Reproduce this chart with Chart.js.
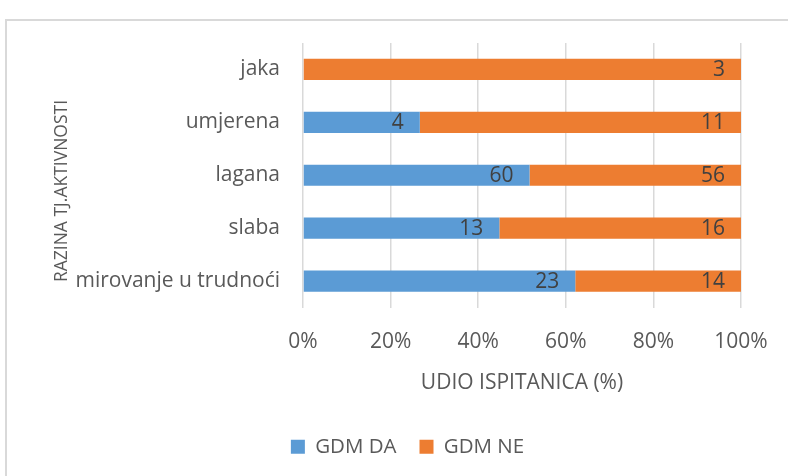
<!DOCTYPE html>
<html lang="hr">
<head>
  <meta charset="UTF-8">
  <title>GDM prema razini tjelesne aktivnosti</title>
  <script src="https://cdn.jsdelivr.net/npm/chart.js"></script>
  <style>
    body { margin: 0; background: #fff; }
    #frame {
      position: absolute; left: 5px; top: 19px;
      width: 800px; height: 480px;
      border: 2px solid #d9d9d9;
    }
    #wrap { position: absolute; left: 0; top: 0; width: 788px; height: 476px; }
  </style>
</head>
<body>
  <div id="frame"></div>
  <div id="wrap"><canvas id="chart" width="788" height="476"></canvas></div>

  <script>
    const categories = ['jaka', 'umjerena', 'lagana', 'slaba', 'mirovanje u trudnoći'];
    const gdmDa = [0, 4, 60, 13, 23];
    const gdmNe = [3, 11, 56, 16, 14];
    const xTicks = ['0%', '20%', '40%', '60%', '80%', '100%'];
    const yTitle = 'RAZINA TJ.AKTIVNOSTI';

    // 100% stacked: share of each row
    const totals = categories.map((c, i) => gdmDa[i] + gdmNe[i]);
    const daPct = gdmDa.map((v, i) => v / totals[i] * 100);
    const nePct = gdmNe.map((v, i) => v / totals[i] * 100);

    const gray = '#595959';
    const labelFont = "'Open Sans', sans-serif";

    // counts written at the inside end of each segment
    const countLabels = {
      id: 'countLabels',
      afterDatasetsDraw(chart) {
        const ctx = chart.ctx;
        const raw = [gdmDa, gdmNe];
        ctx.save();
        ctx.font = '21px ' + labelFont;
        ctx.fillStyle = '#404040';
        ctx.textAlign = 'right';
        ctx.textBaseline = 'middle';
        chart.data.datasets.forEach((ds, d) => {
          chart.getDatasetMeta(d).data.forEach((bar, i) => {
            if (!raw[d][i]) return;
            ctx.fillText(String(raw[d][i]), bar.x - 16, bar.y + 1);
          });
        });
        ctx.restore();
      }
    };

    // vertical axis title, placed like the original (a bit below the plot centre)
    const sideTitle = {
      id: 'sideTitle',
      afterDraw(chart) {
        const ctx = chart.ctx;
        ctx.save();
        ctx.translate(62, 191);
        ctx.rotate(-Math.PI / 2);
        ctx.font = '17.5px ' + labelFont;
        ctx.fillStyle = gray;
        ctx.textAlign = 'center';
        ctx.textBaseline = 'middle';
        ctx.fillText(yTitle, 0, 0);
        ctx.restore();
      }
    };

    // nudge the legend to sit where the original has it
    const legendShift = {
      id: 'legendShift',
      afterLayout(chart) {
        chart.legend.left += 37;
        chart.legend.right += 37;
      }
    };

    new Chart(document.getElementById('chart'), {
      type: 'bar',
      data: {
        labels: categories,
        datasets: [
          { label: 'GDM DA', data: daPct, backgroundColor: '#5b9bd5' },
          { label: 'GDM NE', data: nePct, backgroundColor: '#ed7d31' }
        ]
      },
      options: {
        indexAxis: 'y',
        responsive: false,
        animation: false,
        devicePixelRatio: 1,
        layout: { padding: { left: 0, top: 43, right: 47, bottom: 9 } },
        datasets: { bar: { barPercentage: 0.4, categoryPercentage: 1 } },
        scales: {
          x: {
            stacked: true,
            min: 0, max: 100,
            afterFit(s) {
              s.height = 106;
              s.paddingLeft = 0;
              s.paddingRight = 0;
            },
            ticks: {
              stepSize: 20,
              padding: 22,
              color: gray,
              font: { size: 21, family: labelFont },
              callback: (v, i) => xTicks[i]
            },
            grid: { color: '#d9d9d9', lineWidth: 1.5, drawTicks: false },
            border: { display: false },
            title: {
              display: true,
              text: 'UDIO ISPITANICA (%)',
              color: gray,
              font: { size: 21, family: labelFont },
              padding: { top: 0, bottom: 18 }
            }
          },
          y: {
            stacked: true,
            afterFit(s) { s.width = 303; },
            ticks: {
              padding: 23,
              color: gray,
              font: { size: 21, family: labelFont }
            },
            grid: { display: false, drawTicks: false },
            border: { display: false }
          }
        },
        plugins: {
          legend: {
            position: 'bottom',
            labels: {
              boxWidth: 14, boxHeight: 14,
              padding: 23,
              color: gray,
              font: { size: 20.5, family: labelFont }
            }
          },
          tooltip: { enabled: false }
        }
      },
      plugins: [countLabels, sideTitle, legendShift]
    });
  </script>
</body>
</html>
